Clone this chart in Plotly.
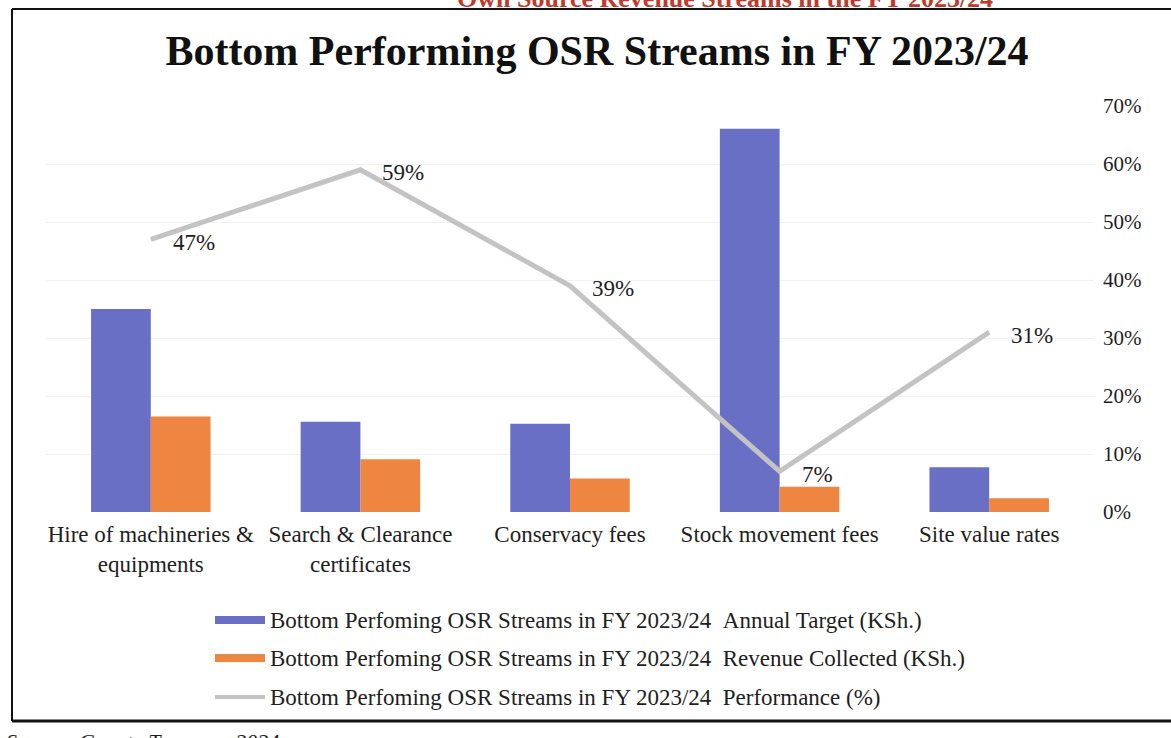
import plotly.graph_objects as go
from plotly.subplots import make_subplots

# --- data -------------------------------------------------------------
categories = [
    "Hire of machineries &<br>equipments",
    "Search & Clearance<br>certificates",
    "Conservacy fees",
    "Stock movement fees",
    "Site value rates",
]
annual_target = [4_000_000, 1_780_000, 1_740_000, 7_550_000, 880_000]
revenue_collected = [1_880_000, 1_040_000, 660_000, 500_000, 270_000]
performance = [0.47, 0.59, 0.39, 0.07, 0.31]
perf_labels = ["47%", "59%", "39%", "7%", "31%"]

series_names = [
    "Bottom Perfoming OSR Streams in FY 2023/24\u00a0\u00a0Annual Target (KSh.)",
    "Bottom Perfoming OSR Streams in FY 2023/24\u00a0\u00a0Revenue Collected (KSh.)",
    "Bottom Perfoming OSR Streams in FY 2023/24\u00a0\u00a0Performance (%)",
]
pct_ticks = [0, 0.1, 0.2, 0.3, 0.4, 0.5, 0.6, 0.7]

# --- style ------------------------------------------------------------
W, H = 1171, 738
M_L, M_R, M_T, M_B = 46, 77, 106, 226
PW, PH = W - M_L - M_R, H - M_T - M_B
FONT = "Liberation Serif"
BLUE = "#6a6fc6"
ORANGE = "#ee8540"
GREY = "#c3c3c3"
TXT = "#1e1e1e"


def px_to_paper(x=None, y=None):
    """Convert page pixels to paper coordinates of the plot area."""
    px = None if x is None else (x - M_L) / PW
    py = None if y is None else (H - M_B - y) / PH
    return px, py


fig = make_subplots(specs=[[{"secondary_y": True}]])

fig.add_trace(go.Bar(x=categories, y=annual_target, name=series_names[0],
                     marker=dict(color=BLUE, line=dict(width=0))),
              secondary_y=False)
fig.add_trace(go.Bar(x=categories, y=revenue_collected, name=series_names[1],
                     marker=dict(color=ORANGE, line=dict(width=0))),
              secondary_y=False)
fig.add_trace(go.Scatter(x=categories, y=performance, name=series_names[2],
                         mode="lines", line=dict(color=GREY, width=5)),
              secondary_y=True)

# performance value labels, placed just right of each line vertex
annotations = []
for cat, val, lab in zip(categories, performance, perf_labels):
    annotations.append(dict(x=cat, y=val, xref="x", yref="y2", text=lab,
                            showarrow=False, xanchor="left", yanchor="middle",
                            xshift=20, yshift=-3,
                            font=dict(family=FONT, size=23, color=TXT)))

# manual legend: swatch + text per series
legend_rows = [620, 658, 697]
swatch_x0, swatch_x1, text_x = 215, 265, 268
shapes = []
for i, (name, row) in enumerate(zip(series_names, legend_rows)):
    x0, _ = px_to_paper(x=swatch_x0)
    x1, _ = px_to_paper(x=swatch_x1)
    h = 4 if i < 2 else 2
    _, y0 = px_to_paper(y=row + h)
    _, y1 = px_to_paper(y=row - h)
    color = [BLUE, ORANGE, GREY][i]
    shapes.append(dict(type="rect", xref="paper", yref="paper",
                       x0=x0, x1=x1, y0=y0, y1=y1,
                       fillcolor=color, line=dict(width=0)))
    tx, ty = px_to_paper(x=text_x, y=row)
    annotations.append(dict(x=tx, y=ty, xref="paper", yref="paper", text=name,
                            showarrow=False, xanchor="left", yanchor="middle",
                            font=dict(family=FONT, size=23, color=TXT)))

# page frame around the chart
fx0, fy_top = px_to_paper(x=12, y=9)
fx1, fy_bot = px_to_paper(x=1180, y=721)
shapes.append(dict(type="line", xref="paper", yref="paper",
                   x0=fx0, x1=fx0, y0=fy_bot, y1=fy_top,
                   line=dict(color="#111", width=2)))
shapes.append(dict(type="line", xref="paper", yref="paper",
                   x0=fx0, x1=fx1, y0=fy_top, y1=fy_top,
                   line=dict(color="#111", width=2)))
shapes.append(dict(type="line", xref="paper", yref="paper",
                   x0=fx0, x1=fx1, y0=fy_bot, y1=fy_bot,
                   line=dict(color="#111", width=3)))

# surrounding document text cut by the page edges
hx, hy = px_to_paper(x=995, y=-2)
annotations.append(dict(x=hx, y=hy, xref="paper", yref="paper",
                        text="<b>Own Source Revenue Streams in the FY 2023/24</b>",
                        showarrow=False, xanchor="right", yanchor="middle",
                        font=dict(family=FONT, size=26, color="#c0392b")))
sx, sy = px_to_paper(x=4, y=727)
annotations.append(dict(x=sx, y=sy, xref="paper", yref="paper",
                        text="<i>Source: County Treasury, 2024</i>",
                        showarrow=False, xanchor="left", yanchor="top",
                        font=dict(family=FONT, size=22, color=TXT)))

fig.update_layout(
    width=W, height=H,
    margin=dict(l=M_L, r=M_R, t=M_T, b=M_B, autoexpand=False),
    paper_bgcolor="white", plot_bgcolor="white",
    barmode="group", bargap=0.43, bargroupgap=0,
    showlegend=False,
    title=dict(text="<b>Bottom Performing OSR Streams in FY 2023/24</b>",
               x=597 / W, xanchor="center", xref="container",
               y=(H - 50) / H, yanchor="middle", yref="container",
               font=dict(family=FONT, size=42, color="#111")),
    annotations=annotations,
    shapes=shapes,
)

fig.update_xaxes(domain=[0, 1],
                 tickfont=dict(family=FONT, size=23, color=TXT),
                 showline=False, showgrid=False, ticks="",
                 ticklabelstandoff=6, automargin=False)
fig.update_yaxes(range=[0, 8_000_000], visible=False, showgrid=False,
                 secondary_y=False)
fig.update_yaxes(range=[0, 0.7], tickvals=pct_ticks, tickformat=".0%",
                 tickfont=dict(family=FONT, size=21, color=TXT),
                 showgrid=True, gridcolor="#f1f1f1", gridwidth=1,
                 zeroline=False, showline=False, ticks="",
                 ticklabelstandoff=8, automargin=False,
                 secondary_y=True)

fig.write_html("out.html")
